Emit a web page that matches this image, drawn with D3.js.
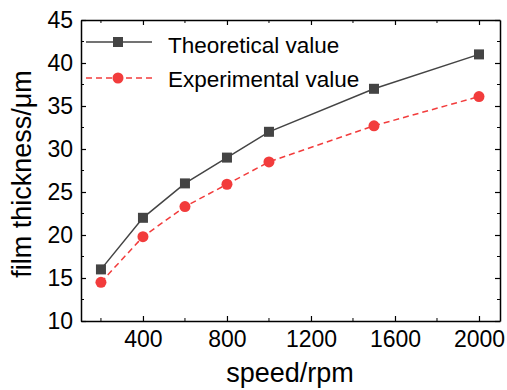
<!DOCTYPE html>
<html>
<head>
<meta charset="utf-8">
<script src="https://cdn.jsdelivr.net/npm/d3@7"></script>
<style>
  body { margin: 0; background: #fff; }
  text { font-family: "Liberation Sans", Arial, sans-serif; fill: #000; }
</style>
</head>
<body>
<script>
// chart data
const speeds = [200, 400, 600, 800, 1000, 1500, 2000];
const theoretical = [16, 22, 26, 29, 32, 37, 41];
const experimental = [14.5, 19.8, 23.3, 25.9, 28.5, 32.7, 36.1];
const xTicks = [400, 800, 1200, 1600, 2000];
const yTicks = [10, 15, 20, 25, 30, 35, 40, 45];

const width = 507, height = 390;
const margin = {top: 20, right: 7, bottom: 69, left: 81};

const svg = d3.select("body").append("svg")
    .attr("width", width)
    .attr("height", height);

const x = d3.scaleLinear().domain([105, 2100]).range([margin.left, width - margin.right]);
const y = d3.scaleLinear().domain([10, 45]).range([height - margin.bottom, margin.top]);

const axisColor = "#000";

// minor ticks
const xMinor = d3.range(200, 2100, 400);
const yMinor = d3.range(12.5, 45, 5);

// bottom axis
const bottomAx = svg.append("g")
    .attr("transform", `translate(0,${y(10)})`)
    .call(d3.axisBottom(x).tickValues(xTicks).tickFormat(d3.format("d"))
      .tickSize(-5).tickPadding(10).tickSizeOuter(0));
bottomAx.append("g").selectAll("line").data(xMinor).join("line")
    .attr("x1", d => x(d)).attr("x2", d => x(d)).attr("y1", 0).attr("y2", -3)
    .attr("stroke", axisColor);

// top axis
const topAx = svg.append("g")
    .attr("transform", `translate(0,${y(45)})`)
    .call(d3.axisTop(x).tickValues(xTicks).tickSize(-5).tickFormat("").tickSizeOuter(0));
topAx.append("g").selectAll("line").data(xMinor).join("line")
    .attr("x1", d => x(d)).attr("x2", d => x(d)).attr("y1", 0).attr("y2", 3)
    .attr("stroke", axisColor);

// left axis
const leftAx = svg.append("g")
    .attr("transform", `translate(${x(105)},0)`)
    .call(d3.axisLeft(y).tickValues(yTicks).tickSize(-5).tickPadding(8).tickSizeOuter(0));
leftAx.append("g").selectAll("line").data(yMinor).join("line")
    .attr("y1", d => y(d)).attr("y2", d => y(d)).attr("x1", 0).attr("x2", 3)
    .attr("stroke", axisColor);

// right axis
const rightAx = svg.append("g")
    .attr("transform", `translate(${x(2100)},0)`)
    .call(d3.axisRight(y).tickValues(yTicks).tickSize(-5).tickFormat("").tickSizeOuter(0));
rightAx.append("g").selectAll("line").data(yMinor).join("line")
    .attr("y1", d => y(d)).attr("y2", d => y(d)).attr("x1", 0).attr("x2", -3)
    .attr("stroke", axisColor);

svg.selectAll(".domain").attr("stroke", "#000").attr("stroke-width", 1.5);
svg.selectAll(".tick line").attr("stroke", "#000").attr("stroke-width", 1.2);
svg.selectAll(".tick text").style("font-size", "23px").attr("fill", "#000");

// series
const grey = "#444444", red = "#f23c3c";
const line = d3.line().x(d => x(d[0])).y(d => y(d[1]));
const tData = speeds.map((s, i) => [s, theoretical[i]]);
const eData = speeds.map((s, i) => [s, experimental[i]]);

svg.append("path").datum(tData)
    .attr("d", line).attr("fill", "none").attr("stroke", grey).attr("stroke-width", 1.5);
svg.append("path").datum(eData)
    .attr("d", line).attr("fill", "none").attr("stroke", red).attr("stroke-width", 1.5)
    .attr("stroke-dasharray", "6,4");

svg.append("g").selectAll("rect").data(tData).join("rect")
    .attr("x", d => x(d[0]) - 5).attr("y", d => y(d[1]) - 5)
    .attr("width", 10).attr("height", 10).attr("fill", grey);
svg.append("g").selectAll("circle").data(eData).join("circle")
    .attr("cx", d => x(d[0])).attr("cy", d => y(d[1])).attr("r", 5.5)
    .attr("fill", red);

// legend
const legend = svg.append("g");
legend.append("line").attr("x1", 86).attr("x2", 152).attr("y1", 42).attr("y2", 42)
    .attr("stroke", grey).attr("stroke-width", 1.5);
legend.append("rect").attr("x", 113).attr("y", 37).attr("width", 10).attr("height", 10).attr("fill", grey);
legend.append("text").attr("x", 168).attr("y", 53).style("font-size", "22.5px").text("Theoretical value");
legend.append("line").attr("x1", 86).attr("x2", 152).attr("y1", 78).attr("y2", 78)
    .attr("stroke", red).attr("stroke-width", 1.5).attr("stroke-dasharray", "6,4");
legend.append("circle").attr("cx", 118).attr("cy", 78).attr("r", 5.5).attr("fill", red);
legend.append("text").attr("x", 168).attr("y", 87).style("font-size", "22.5px").text("Experimental value");

// axis titles
svg.append("text")
    .attr("x", 290).attr("y", 382)
    .attr("text-anchor", "middle")
    .style("font-size", "27px")
    .text("speed/rpm");
svg.append("text")
    .attr("transform", "translate(31,174) rotate(-90)")
    .attr("text-anchor", "middle")
    .style("font-size", "27px")
    .text("film thickness/μm");
</script>
</body>
</html>
